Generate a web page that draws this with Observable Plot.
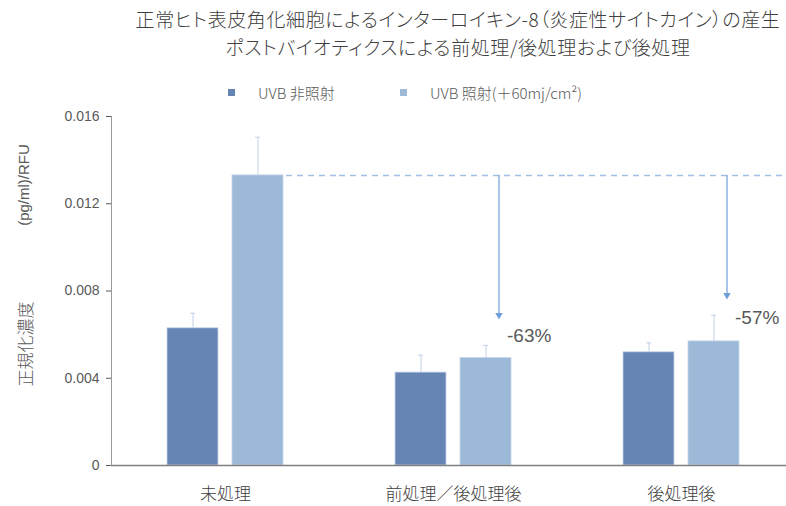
<!DOCTYPE html>
<html>
<head>
<meta charset="utf-8">
<script src="https://cdn.jsdelivr.net/npm/d3@7"></script>
<script src="https://cdn.jsdelivr.net/npm/@observablehq/plot@0.6"></script>
<style>
  html, body { margin: 0; padding: 0; background: #fff; overflow: hidden; }
  #wrap { position: relative; width: 786px; height: 506px; overflow: hidden; font-family: "Noto Sans CJK JP", sans-serif; }
  .tline { position: absolute; left: 130px; width: 656px; text-align: center; font-size: 19px; line-height: 28px; color: #404040; font-weight: 300; font-feature-settings: "palt"; letter-spacing: 0.6px; white-space: nowrap; }
  .leg { position: absolute; top: 82px; display: flex; align-items: center; font-size: 15px; color: #595959; font-weight: 300; white-space: nowrap; }
  .leg .sw { width: 7px; height: 7px; margin-right: 23px; }
  .ytitle { position: absolute; transform: translate(-50%, -50%) rotate(-90deg); font-size: 15px; color: #595959; white-space: nowrap; font-family: "Liberation Sans", "Noto Sans CJK JP", sans-serif; }
  #chart { position: absolute; left: 0; top: 0; width: 795px; }
  #chart svg { max-width: none !important; }
</style>
</head>
<body>
<div id="wrap">
  <div id="title"></div>
  <div id="legend"></div>
  <div class="ytitle" id="yt1" style="left:23px; top:185px;"></div>
  <div class="ytitle" id="yt2" style="left:24px; top:344px; font-size:17px; font-weight:300;"></div>
  <div id="chart"></div>
</div>
<script>
// ---- data ----
const titleLines = [
  "正常ヒト表皮角化細胞によるインターロイキン-8（炎症性サイトカイン）の産生",
  "ポストバイオティクスによる前処理/後処理および後処理"
];
const groups = ["未処理", "前処理／後処理後", "後処理後"];
const series = ["UVB 非照射", "UVB 照射(＋60mj/cm²)"];
const nonIrradiated = [0.00629, 0.00426, 0.00519];
const irradiated = [0.01330, 0.00493, 0.00569];
const nonIrradiatedErr = [0.00069, 0.00080, 0.00043];
const irradiatedErr = [0.00175, 0.00058, 0.00120];
const changeGroups = ["前処理／後処理後", "後処理後"];
const changeLabels = ["-63%", "-57%"];
const arrowEnds = [0.00675, 0.00767];
const labelValues = [0.00592, 0.00675];
const yTicks = [0, 0.004, 0.008, 0.012, 0.016];
const yTitleParts = ["(pg/ml)/RFU", "正規化濃度"];
const colors = ["#6685b4", "#9db9d8"];

// ---- html texts ----
const titleTops = [5, 33];
document.getElementById("title").innerHTML = titleLines.map((t, i) => `<div class="tline" style="top:${titleTops[i]}px">${t}</div>`).join("");
document.getElementById("yt1").textContent = yTitleParts[0];
document.getElementById("yt2").textContent = yTitleParts[1];
const legendLefts = [228, 400];
document.getElementById("legend").innerHTML = series.map((s, i) =>
  `<div class="leg" style="left:${legendLefts[i]}px"><span class="sw" style="background:${colors[i]}"></span><span>${s}</span></div>`
).join("");

// ---- table ----
const rows = [];
groups.forEach((g, i) => {
  rows.push({group: g, series: series[0], value: nonIrradiated[i], top: nonIrradiated[i] + nonIrradiatedErr[i]});
  rows.push({group: g, series: series[1], value: irradiated[i], top: irradiated[i] + irradiatedErr[i]});
});
const refValue = irradiated[0];
const refStart = [{group: groups[0], series: series[1], v: refValue}];
const refRest = groups.slice(1).map(g => ({group: g, v: refValue}));
const changes = changeGroups.map((g, i) => ({group: g, series: series[1], from: refValue, to: arrowEnds[i], label: changeLabels[i], ly: labelValues[i]}));

const arrowColor = "#6f9fd8";
const errColor = "#c3d2e8";
const dashColor = "#a2bfe4";

const plot = Plot.plot({
  width: 795,
  height: 506,
  marginLeft: 111,
  marginRight: 0,
  marginTop: 116,
  marginBottom: 41,
  style: {fontFamily: "'Liberation Sans', 'Noto Sans CJK JP', sans-serif", background: "transparent", overflow: "visible", maxWidth: "none"},
  fx: {domain: groups, padding: 0, label: null},
  x: {domain: series, paddingInner: 0.215, paddingOuter: 0.8615, align: 0.5, axis: null, round: false},
  y: {domain: [0, 0.016], label: null},
  color: {domain: series, range: colors},
  marks: [
    Plot.barY(rows, {fx: "group", x: "series", y: "value", fill: "series", stroke: "#c9d6ea", strokeWidth: 0.8}),
    Plot.ruleX(rows, {fx: "group", x: "series", y1: "value", y2: "top", stroke: errColor, strokeWidth: 1}),
    Plot.tickY(rows, {fx: "group", x: "series", y: "top", stroke: errColor, strokeWidth: 1, insetLeft: 23, insetRight: 23}),
    Plot.ruleY(refStart, {fx: "group", x1: "series", x2: "series", y: "v", insetLeft: 54, insetRight: -57, stroke: dashColor, strokeWidth: 1.5, strokeDasharray: "6,5"}),
    Plot.ruleY(refRest, {fx: "group", y: "v", stroke: dashColor, strokeWidth: 1.5, strokeDasharray: "6,5"}),
    Plot.ruleX(changes, {fx: "group", x: "series", y1: "from", y2: "to", dx: 13, stroke: arrowColor, strokeWidth: 1.2}),
    Plot.dot(changes, {fx: "group", x: "series", y: "to", dx: 13, dy: -3, symbol: "triangle", r: 2.8, rotate: 180, fill: arrowColor, stroke: "none"}),
    Plot.text(changes, {fx: "group", x: "series", y: "ly", text: "label", dx: 21, textAnchor: "start", fontSize: 19, fill: "#595959"}),
    Plot.ruleY([0], {stroke: "#808080", strokeWidth: 1.5}),
    Plot.frame({anchor: "left", facetAnchor: "left", stroke: "#999"}),
    Plot.axisY({ticks: yTicks, tickFormat: d => String(d), tickSize: 5, tickPadding: 7, fontSize: 14, color: "#595959", label: null}),
    Plot.axisFx({anchor: "bottom", tickSize: 0, tickPadding: 22, fontSize: 17, fontWeight: 300, color: "#404040", label: null})
  ]
});
document.getElementById("chart").appendChild(plot);
</script>
</body>
</html>
